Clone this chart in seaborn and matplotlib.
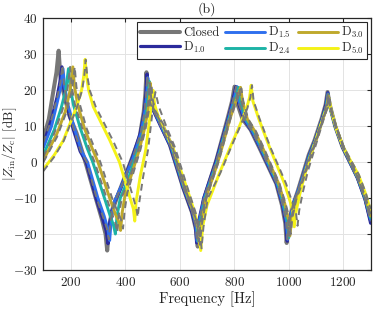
import seaborn as sns
import matplotlib.pyplot as plt

f_closed = [100, 120, 137, 148, 156, 162, 172, 195, 222, 258, 292, 315, 328, 334, 340, 350, 379, 422, 453, 468, 474, 478, 484, 490, 527, 563, 612, 645, 660, 666, 672, 690, 734, 777, 792, 801, 808, 830, 860, 892, 954, 975, 987, 992, 1000, 1015, 1033, 1073, 1094, 1120, 1135, 1142, 1150, 1170, 1197, 1252, 1280, 1300]
z_closed = [6.5, 12, 20, 25, 31, 24, 20, 13, 8, -1, -10, -16, -20, -24.6, -19, -14, -8, 0.5, 7, 14, 19, 25, 19, 17, 11, 5, -7, -14, -19, -23.5, -18, -10, 0.5, 12.6, 17, 21, 17, 12, 9, 4, -6, -12, -17, -22.5, -17, -12, -8, 2, 6, 12, 16, 19.5, 16, 10, 4.2, -4.2, -10, -16]

f_d10 = [100, 130, 150, 160, 168, 174, 185, 210, 235, 257, 293, 318, 330, 337, 343, 355, 385, 425, 455, 470, 476, 480, 486, 493, 530, 565, 612, 645, 658, 662, 668, 688, 732, 777, 794, 806, 813, 835, 865, 894, 955, 977, 989, 994, 1000, 1015, 1035, 1075, 1096, 1122, 1136, 1143, 1151, 1172, 1198, 1252, 1280, 1300]
z_d10 = [5, 12, 18, 22, 26.5, 21, 16, 9, 3, 0, -10, -16, -19, -22.7, -17, -12, -7, 1, 8, 14, 19, 24.5, 19, 16, 10, 4.5, -7, -14, -18, -22.5, -17, -10, 0, 12, 17, 21, 17, 12, 8.5, 4, -6, -12, -17, -22, -17, -12, -8, 2, 6, 12, 16, 19.3, 15.5, 9.5, 4, -4.5, -10.5, -17]

f_d15 = [100, 130, 152, 164, 172, 178, 190, 215, 240, 262, 300, 323, 336, 343, 349, 360, 390, 428, 458, 472, 479, 483, 489, 496, 532, 567, 614, 646, 659, 664, 670, 690, 735, 779, 797, 810, 817, 838, 867, 896, 957, 979, 991, 996, 1002, 1017, 1037, 1076, 1097, 1123, 1137, 1143, 1151, 1172, 1199, 1253, 1280, 1300]
z_d15 = [4, 10, 17, 21, 26, 21, 16, 9, 3, 0, -10, -15, -18.5, -21.8, -16, -11, -6, 1, 8, 14, 18.5, 23.5, 18.5, 16, 10, 4.5, -7, -13.5, -17.5, -22, -17, -10, 0, 12, 17, 21, 17, 12, 8.5, 4, -6, -12, -16.5, -21.5, -16.5, -11.5, -7.5, 2, 6, 12, 15.5, 19, 15.5, 9.5, 4, -4.5, -10, -16]

f_d24 = [100, 140, 165, 182, 192, 198, 210, 235, 260, 281, 324, 345, 357, 364, 370, 382, 410, 440, 465, 478, 484, 488, 494, 501, 536, 570, 616, 648, 663, 668, 674, 693, 737, 781, 802, 816, 823, 843, 872, 900, 960, 982, 995, 1000, 1006, 1020, 1040, 1078, 1098, 1124, 1138, 1144, 1152, 1173, 1200, 1254, 1280, 1300]
z_d24 = [2, 9, 15, 20, 26, 21, 16, 9.5, 4, 0, -10, -15, -17.5, -20, -15, -10, -5, 2, 8, 14, 18, 22.5, 18, 15.5, 10, 4.5, -7, -13.5, -17.5, -22, -17, -10, 0, 12, 17, 20.8, 17, 12, 8.5, 4, -6, -12, -16.5, -21, -16.5, -11.5, -7.5, 2, 6, 12, 15.5, 18.8, 15, 9.5, 4, -4.5, -10, -15.5]

f_d30 = [100, 150, 180, 198, 208, 214, 226, 250, 278, 300, 343, 364, 376, 383, 389, 400, 425, 450, 470, 483, 489, 492, 498, 505, 540, 573, 618, 650, 667, 672, 678, 696, 740, 784, 806, 823, 830, 848, 876, 904, 963, 985, 999, 1004, 1010, 1024, 1043, 1080, 1100, 1125, 1139, 1145, 1153, 1174, 1201, 1255, 1280, 1300]
z_d30 = [0.5, 8, 14, 20, 26.5, 21, 16, 9.5, 4, 0, -10, -14.5, -16.5, -19, -14, -9, -3, 3, 9, 14, 18, 22, 17.5, 15, 10, 4.5, -7, -14, -18.5, -23, -18, -10, 0, 12, 17, 20.8, 17, 12, 8.5, 4, -6, -11.5, -16, -20.5, -16, -11, -7, 2, 6, 12, 15, 18.5, 15, 9.5, 4, -4.5, -9.5, -15]

f_d50 = [100, 140, 173, 222, 240, 248, 253, 258, 266, 283, 344, 379, 418, 430, 435, 440, 455, 475, 490, 498, 502, 508, 520, 550, 580, 625, 655, 670, 677, 684, 700, 746, 790, 819, 845, 856, 862, 868, 890, 929, 984, 1005, 1015, 1020, 1026, 1040, 1060, 1094, 1120, 1138, 1147, 1155, 1175, 1200, 1255, 1280, 1300]
z_d50 = [-2, 2, 6, 15.4, 20, 24, 28.6, 24, 20, 15.4, 6, 0, -10, -13, -16.4, -11, -4, 3.3, 12, 17, 20, 16, 13, 8, 3, -7, -14, -19, -24.6, -18, -12, -3, 5, 10, 15, 18, 21.4, 17, 12, 4.2, -6, -11, -14, -18, -14, -9, -3, 5, 11, 15, 17.7, 14.5, 9, 4, -3.5, -8.5, -13.5]

# model curves (grey dashed)
f_m10 = [100, 130, 152, 162, 170, 176, 187, 212, 237, 259, 295, 320, 333, 340, 346, 358, 388, 427, 457, 471, 477, 481, 487, 494, 531, 566, 613, 646, 659, 663, 669, 689, 733, 778, 795, 807, 814, 836, 866, 895, 956, 978, 990, 995, 1001, 1016, 1036, 1076, 1097, 1123, 1137, 1143, 1151, 1172, 1198, 1252, 1280, 1300]
z_m10 = [5.5, 12, 18.5, 22, 27, 21.5, 16, 9, 3, 0, -10, -15.5, -18.5, -21.5, -16.5, -11.5, -6.5, 1, 8, 14, 19, 24, 18.5, 16, 10, 4.5, -7, -14, -18, -22, -17, -10, 0, 12, 17, 21, 17, 12, 8.5, 4, -6, -12, -16.5, -21.5, -16.5, -11.5, -7.5, 2, 6, 12, 16, 19, 15.5, 9.5, 4, -4.5, -10.5, -16.5]

f_m24 = [100, 140, 170, 188, 198, 204, 216, 242, 267, 288, 332, 352, 364, 371, 377, 389, 416, 444, 468, 480, 486, 490, 496, 503, 538, 572, 618, 650, 665, 670, 676, 695, 739, 783, 804, 818, 825, 845, 874, 902, 962, 984, 997, 1002, 1008, 1022, 1042, 1080, 1100, 1126, 1140, 1145, 1153, 1174, 1201, 1255, 1280, 1300]
z_m24 = [1.5, 8, 14.5, 20, 26.5, 21, 16, 9.5, 4, 0, -10, -14.5, -17, -19.5, -14.5, -9.5, -4.5, 2.5, 8.5, 14, 18, 22, 17.5, 15, 10, 4.5, -7, -13.5, -17.5, -22, -17, -10, 0, 12, 17, 20.5, 17, 12, 8.5, 4, -6, -11.5, -16, -20.5, -16, -11, -7, 2, 6, 12, 15.5, 18.5, 15, 9.5, 4, -4.5, -10, -15]

f_m30 = [100, 150, 185, 205, 215, 221, 234, 258, 287, 309, 352, 373, 385, 392, 398, 408, 432, 456, 474, 486, 492, 496, 502, 509, 544, 576, 620, 652, 669, 674, 680, 698, 742, 786, 808, 826, 833, 851, 880, 908, 966, 988, 1002, 1007, 1013, 1027, 1046, 1082, 1101, 1126, 1140, 1146, 1154, 1175, 1202, 1256, 1280, 1300]
z_m30 = [0, 7, 14, 20, 26.5, 21, 16, 9.5, 4, 0, -10, -14, -16, -18.5, -13.5, -8.5, -2.5, 3.5, 9, 14, 18, 21.5, 17, 14.5, 10, 4.5, -7, -14, -18.5, -23, -18, -10, 0, 12, 17, 20.5, 17, 12, 8.5, 4, -6, -11.5, -15.5, -20, -15.5, -10.5, -6.5, 2, 6, 12, 15, 18.3, 14.5, 9.5, 4, -4.5, -9.5, -14.5]

f_m50 = [100, 140, 175, 224, 242, 250, 255, 261, 270, 292, 355, 391, 430, 441, 446, 452, 466, 484, 497, 505, 511, 523, 553, 583, 628, 658, 673, 680, 687, 703, 749, 793, 822, 848, 859, 865, 871, 893, 933, 990, 1012, 1026, 1032, 1038, 1051, 1070, 1100, 1124, 1141, 1150, 1158, 1178, 1203, 1257, 1282, 1300]
z_m50 = [-2.5, 1.5, 6, 15.4, 20, 24, 28.5, 24, 20, 15.4, 6, 0, -10, -13, -15.3, -11, -4, 3.5, 12, 17, 19.5, 15.5, 9.5, 4, -7, -14, -19, -24, -18, -10, -3, 5, 10, 15, 18, 21.4, 17, 12, 4, -6, -11, -14, -17.7, -13.5, -8.5, -2.5, 5, 11, 15, 17.5, 14, 9, 4, -3.5, -8.5, -13]

sns.set_theme(style="whitegrid")
plt.rcParams['font.family'] = ['cmr10', 'DejaVu Serif']
plt.rcParams['mathtext.fontset'] = 'cm'
plt.rcParams['axes.unicode_minus'] = False
plt.rcParams['axes.formatter.use_mathtext'] = True

fig = plt.figure(figsize=(3.74, 3.11), dpi=100)
ax = fig.add_axes([0.116, 0.132, 0.875, 0.809])

sns.lineplot(x=f_closed, y=z_closed, color="#777777", lw=2.9, label="Closed", ax=ax)
sns.lineplot(x=f_d10, y=z_d10, color="#2b2a9c", lw=2.3, label="D$_{1.0}$", ax=ax)
sns.lineplot(x=f_d15, y=z_d15, color="#2f6fee", lw=2.1, label="D$_{1.5}$", ax=ax)
sns.lineplot(x=f_d24, y=z_d24, color="#1db3a6", lw=2.1, label="D$_{2.4}$", ax=ax)
sns.lineplot(x=f_d30, y=z_d30, color="#bfa92c", lw=2.1, label="D$_{3.0}$", ax=ax)
sns.lineplot(x=f_d50, y=z_d50, color="#f4f218", lw=2.1, label="D$_{5.0}$", ax=ax)

for fm, zm in [(f_m10, z_m10), (f_m24, z_m24), (f_m30, z_m30), (f_m50, z_m50)]:
    sns.lineplot(x=fm, y=zm, color="#777777", lw=1.4, ax=ax, legend=False,
                 linestyle=(0, (3.5, 2.5)))

ax.set_xlim(100, 1300)
ax.set_ylim(-30, 40)
ax.set_xticks([200, 400, 600, 800, 1000, 1200])
ax.set_yticks([-30, -20, -10, 0, 10, 20, 30, 40])
ax.tick_params(direction="in", length=3, width=0.8, top=True, right=True,
               labelsize=9.5, colors="#262626", pad=4)
ax.grid(True, color="#e3e3e3", lw=0.7)
for s in ax.spines.values():
    s.set_color("#262626")
    s.set_linewidth(0.9)

ax.set_xlabel("Frequency [Hz]", fontsize=10.5, color="#262626", labelpad=2)
ax.set_ylabel(r"$|Z_{\mathrm{in}}/Z_{\mathrm{c}}|$ [dB]", fontsize=9.5, color="#262626")
ax.yaxis.set_label_coords(-0.075, 0.5)
ax.set_title("(b)", fontsize=10, color="#262626", pad=4)

leg = ax.legend(ncol=3, loc="upper right", fontsize=9, handlelength=3.2, handletextpad=0.25,
                columnspacing=0.5, labelspacing=0.05, borderpad=0.25, borderaxespad=0.3,
                frameon=True, fancybox=False, edgecolor="#262626", framealpha=1)
leg.get_frame().set_linewidth(0.8)

fig.savefig("out.png", dpi=100)
